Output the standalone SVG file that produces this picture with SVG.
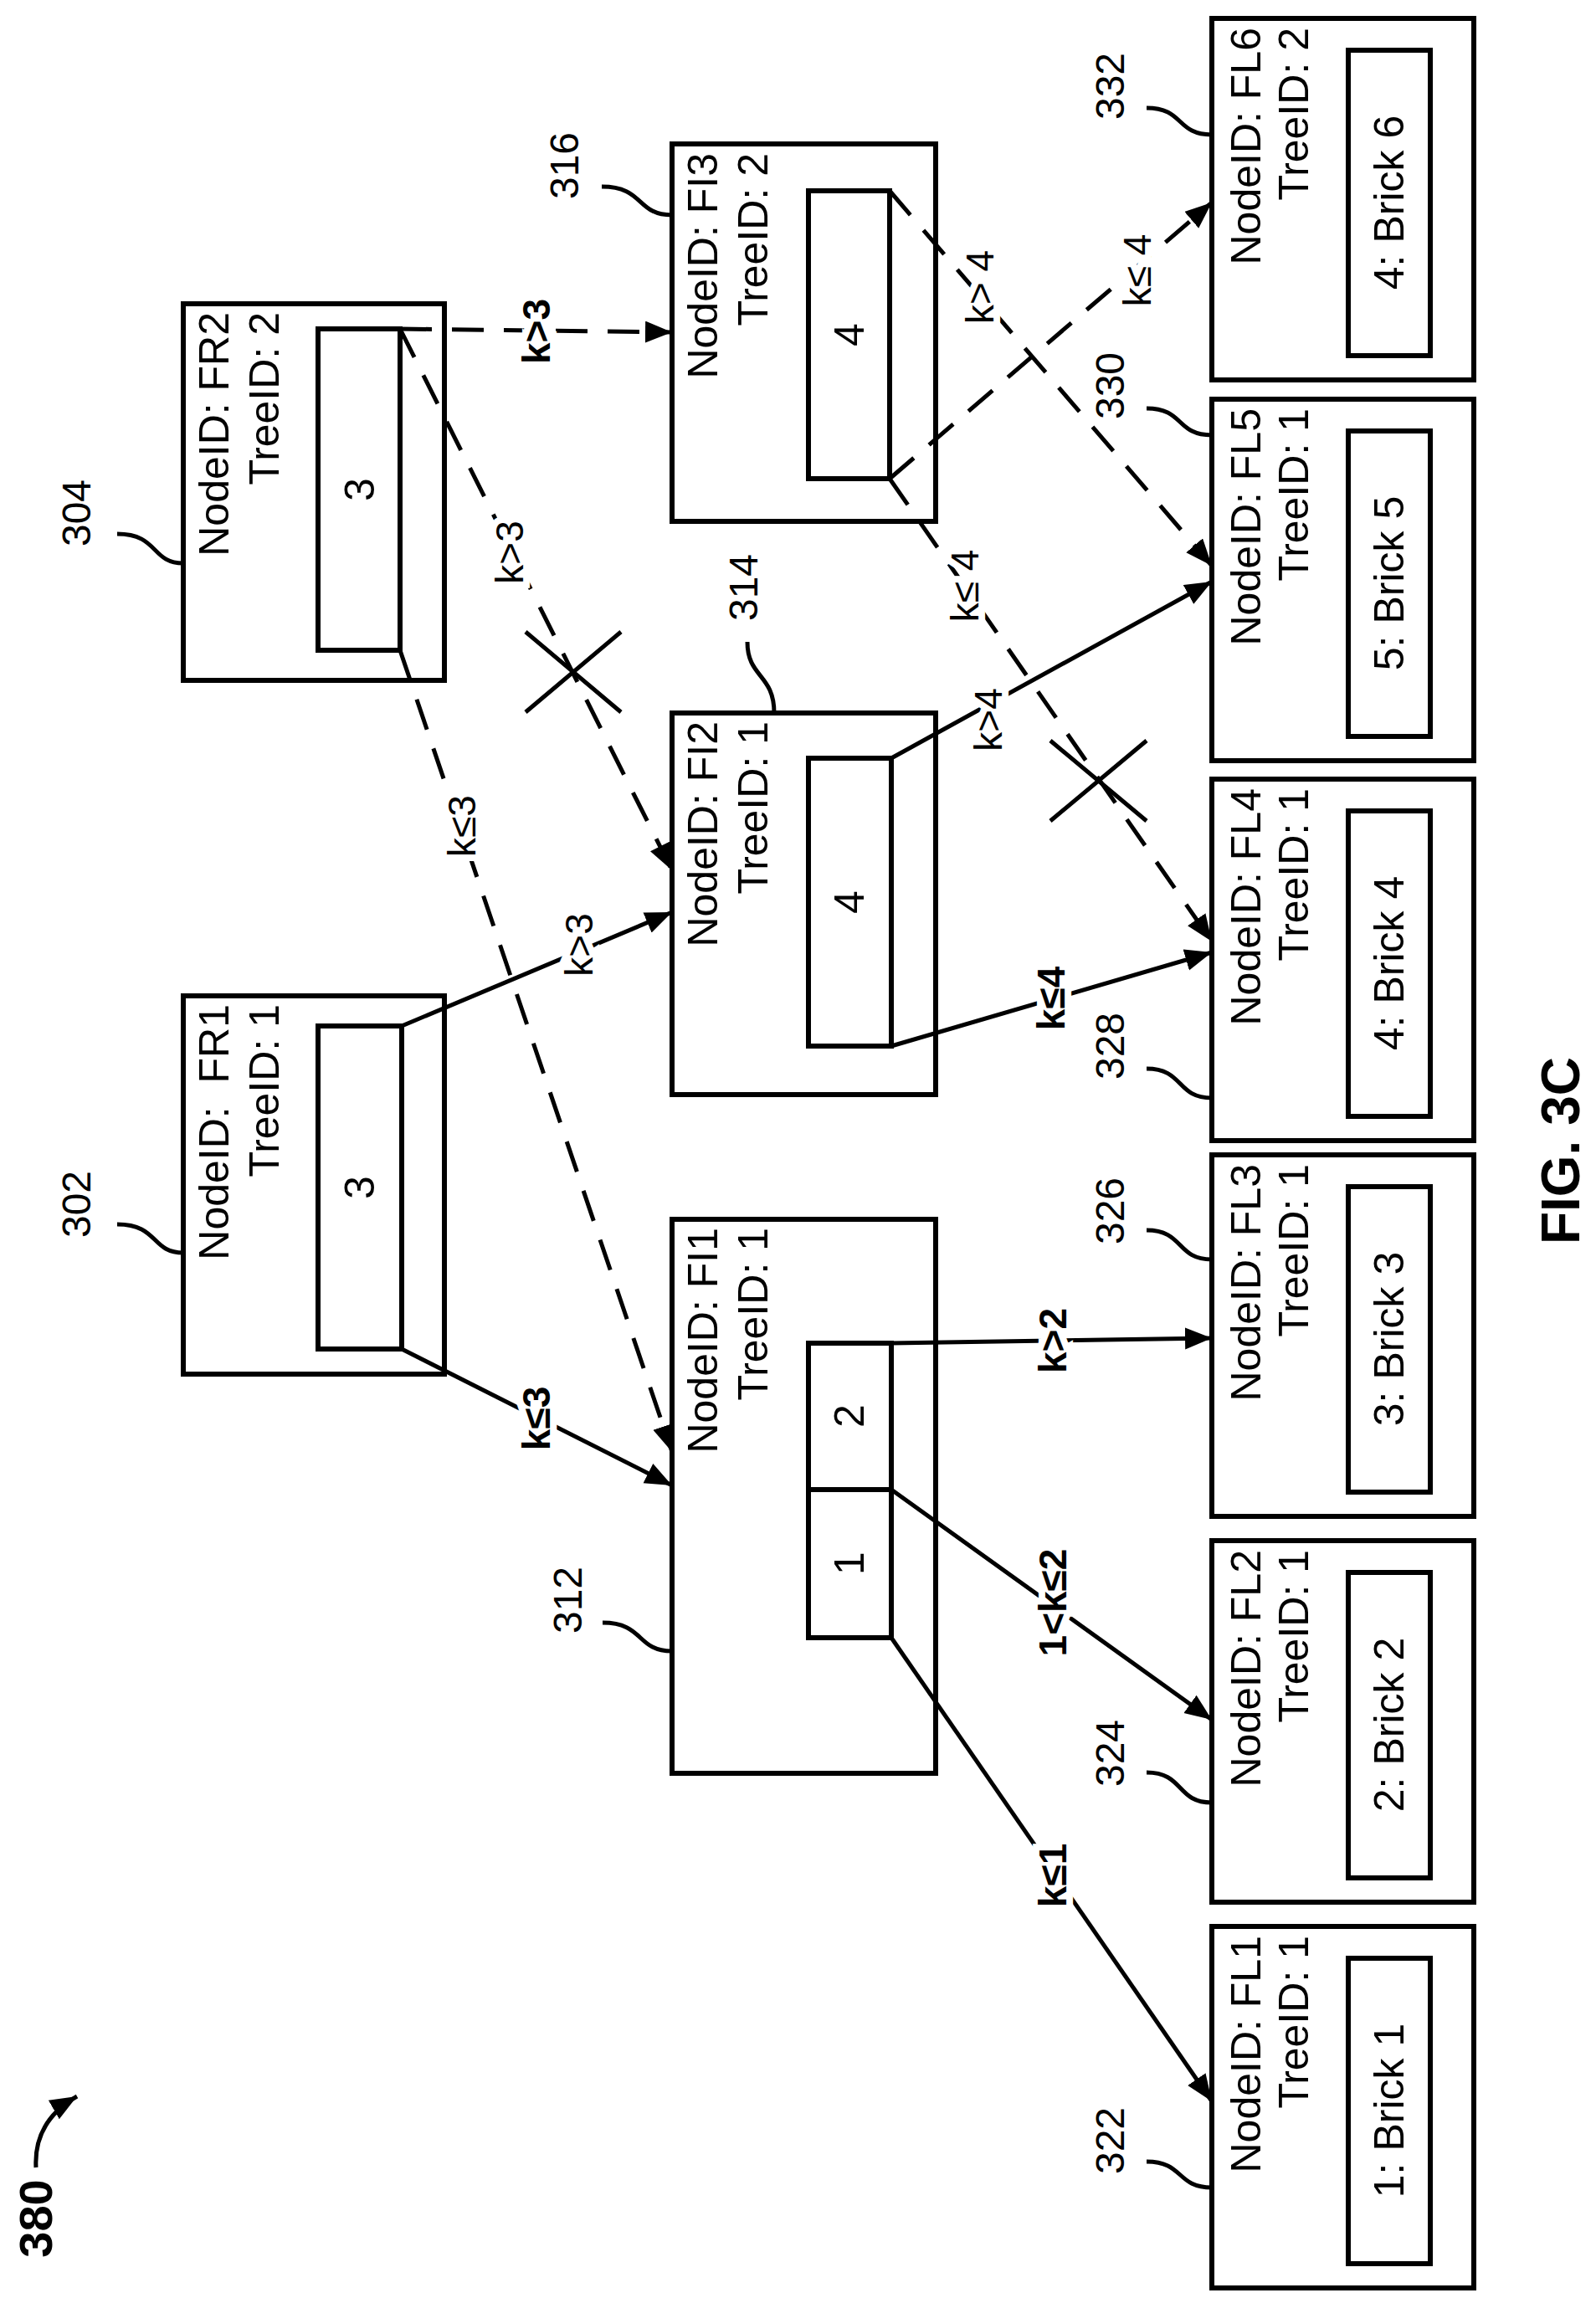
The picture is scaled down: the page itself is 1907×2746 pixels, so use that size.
<svg xmlns="http://www.w3.org/2000/svg" width="1907" height="2746" viewBox="0 0 1907 2746">
<style>
.bx{fill:none;stroke:#000;stroke-width:6}
.in{fill:#fff;stroke:#000;stroke-width:6}
.t{font-family:"Liberation Sans",Arial,sans-serif;font-size:50px;fill:#000}
.r{font-family:"Liberation Sans",Arial,sans-serif;font-size:48px;fill:#000}
.lb{font-family:"Liberation Sans",Arial,sans-serif;font-size:46px;fill:#000;text-anchor:middle;stroke:#fff;stroke-width:16;paint-order:stroke}
.b{font-weight:bold}
.c{fill:none;stroke:#000;stroke-width:5}
.d{fill:none;stroke:#000;stroke-width:5;stroke-dasharray:38 24}
.ld{fill:none;stroke:#000;stroke-width:5}
</style>
<defs>
<marker id="ah" markerUnits="userSpaceOnUse" markerWidth="34" markerHeight="28" refX="32" refY="13" orient="auto">
<path d="M0,0 L32,13 L0,26 z" fill="#000"/>
</marker>
</defs>
<rect width="1907" height="2746" fill="#fff"/>

<g id="connectors">
<line class="d" x1="478" y1="393" x2="803" y2="397" marker-end="url(#ah)"/>
<line class="d" x1="478" y1="393" x2="803" y2="1040" marker-end="url(#ah)"/>
<line class="d" x1="478" y1="777" x2="803" y2="1735" marker-end="url(#ah)"/>
<line class="c" x1="480" y1="1226" x2="803" y2="1090" marker-end="url(#ah)"/>
<line class="c" x1="480" y1="1612" x2="803" y2="1775" marker-end="url(#ah)"/>
<line class="d" x1="1063" y1="228" x2="1448" y2="676" marker-end="url(#ah)"/>
<line class="d" x1="1063" y1="572" x2="1448" y2="242" marker-end="url(#ah)"/>
<line class="d" x1="1063" y1="572" x2="1448" y2="1125" marker-end="url(#ah)"/>
<line class="c" x1="1065" y1="906" x2="1448" y2="695" marker-end="url(#ah)"/>
<line class="c" x1="1065" y1="1250" x2="1448" y2="1138" marker-end="url(#ah)"/>
<line class="c" x1="1065" y1="1605" x2="1448" y2="1599" marker-end="url(#ah)"/>
<line class="c" x1="1065" y1="1780" x2="1448" y2="2055" marker-end="url(#ah)"/>
<line class="c" x1="1065" y1="1957" x2="1448" y2="2511" marker-end="url(#ah)"/>
<path class="c" d="M628,755 L742,851 M628,851 L742,755"/>
<path class="c" d="M1255,885 L1370,981 M1255,981 L1370,885"/>
<text class="lb b" transform="translate(657,396) rotate(-90)">k&gt;3</text>
<text class="lb" transform="translate(625,660) rotate(-90)">k&gt;3</text>
<text class="lb" transform="translate(568,987) rotate(-90)">k≤3</text>
<text class="lb" transform="translate(708,1129) rotate(-90)">k&gt;3</text>
<text class="lb b" transform="translate(657,1695) rotate(-90)">k≤3</text>
<text class="lb" transform="translate(1187,343) rotate(-90)">k&gt; 4</text>
<text class="lb" transform="translate(1375,323) rotate(-90)">k≤ 4</text>
<text class="lb" transform="translate(1169,700) rotate(-90)">k≤ 4</text>
<text class="lb" transform="translate(1197,860) rotate(-90)">k&gt;4</text>
<text class="lb b" transform="translate(1272,1193) rotate(-90)">k≤4</text>
<text class="lb b" transform="translate(1274,1602) rotate(-90)">k&gt;2</text>
<text class="lb b" transform="translate(1274,1915) rotate(-90)">1&lt;k≤2</text>
<text class="lb b" transform="translate(1274,2241) rotate(-90)">k≤1</text>
</g>

<g id="FR2">
<rect class="bx" x="219" y="363" width="312" height="450"/>
<rect class="in" x="380" y="393" width="98" height="384"/>
<text class="t" text-anchor="end" transform="translate(273,373) rotate(-90)">NodeID: FR2</text>
<text class="t" text-anchor="end" transform="translate(333,373) rotate(-90)">TreeID: 2</text>
<text class="t" text-anchor="middle" transform="translate(447,585) rotate(-90)">3</text>
<path class="ld" d="M140,638 C190,638 180,673 219,673"/>
<text class="r" text-anchor="middle" transform="translate(108,613) rotate(-90)">304</text>
</g>
<g id="FR1">
<rect class="bx" x="219" y="1190" width="312" height="452"/>
<rect class="in" x="380" y="1226" width="100" height="386"/>
<text class="t" text-anchor="end" transform="translate(273,1200) rotate(-90)">NodeID:&#160; FR1</text>
<text class="t" text-anchor="end" transform="translate(333,1200) rotate(-90)">TreeID: 1</text>
<text class="t" text-anchor="middle" transform="translate(447,1419) rotate(-90)">3</text>
<path class="ld" d="M140,1463 C190,1463 180,1497 219,1497"/>
<text class="r" text-anchor="middle" transform="translate(108,1439) rotate(-90)">302</text>
</g>
<g id="FI3">
<rect class="bx" x="803" y="172" width="315" height="451"/>
<rect class="in" x="966" y="228" width="97" height="344"/>
<text class="t" text-anchor="end" transform="translate(857,183) rotate(-90)">NodeID: FI3</text>
<text class="t" text-anchor="end" transform="translate(917,183) rotate(-90)">TreeID: 2</text>
<text class="t" text-anchor="middle" transform="translate(1032,400) rotate(-90)">4</text>
<path class="ld" d="M719,223 C770,223 760,257 803,257"/>
<text class="r" text-anchor="middle" transform="translate(691,198) rotate(-90)">316</text>
</g>
<g id="FI2">
<rect class="bx" x="803" y="852" width="315" height="456"/>
<rect class="in" x="966" y="906" width="99" height="344"/>
<text class="t" text-anchor="end" transform="translate(857,862) rotate(-90)">NodeID: FI2</text>
<text class="t" text-anchor="end" transform="translate(917,862) rotate(-90)">TreeID: 1</text>
<text class="t" text-anchor="middle" transform="translate(1032,1078) rotate(-90)">4</text>
<path class="ld" d="M893,767 C893,810 925,805 925,852"/>
<text class="r" text-anchor="middle" transform="translate(905,702) rotate(-90)">314</text>
</g>
<g id="FI1">
<rect class="bx" x="803" y="1457" width="315" height="662"/>
<rect class="in" x="966" y="1605" width="99" height="352"/>
<line class="bx" x1="966" y1="1780" x2="1065" y2="1780"/>
<text class="t" text-anchor="end" transform="translate(857,1467) rotate(-90)">NodeID: FI1</text>
<text class="t" text-anchor="end" transform="translate(917,1467) rotate(-90)">TreeID: 1</text>
<text class="t" text-anchor="middle" transform="translate(1032,1692) rotate(-90)">2</text>
<text class="t" text-anchor="middle" transform="translate(1032,1868) rotate(-90)">1</text>
<path class="ld" d="M720,1939 C770,1939 760,1973 803,1973"/>
<text class="r" text-anchor="middle" transform="translate(695,1912) rotate(-90)">312</text>
</g>

<g id="FL6">
<rect class="bx" x="1448" y="22" width="313" height="432"/>
<rect class="in" x="1611" y="60" width="98" height="365"/>
<text class="t" text-anchor="end" transform="translate(1506,33) rotate(-90)">NodeID: FL6</text>
<text class="t" text-anchor="end" transform="translate(1563,33) rotate(-90)">TreeID: 2</text>
<text class="t" text-anchor="middle" transform="translate(1677,242) rotate(-90)">4: Brick 6</text>
<path class="ld" d="M1370,129 C1415,129 1405,161 1448,161"/>
<text class="r" text-anchor="middle" transform="translate(1343,103) rotate(-90)">332</text>
</g>
<g id="FL5">
<rect class="bx" x="1448" y="477" width="313" height="432"/>
<rect class="in" x="1611" y="515" width="98" height="365"/>
<text class="t" text-anchor="end" transform="translate(1506,488) rotate(-90)">NodeID: FL5</text>
<text class="t" text-anchor="end" transform="translate(1563,488) rotate(-90)">TreeID: 1</text>
<text class="t" text-anchor="middle" transform="translate(1677,697) rotate(-90)">5: Brick 5</text>
<path class="ld" d="M1370,488 C1415,488 1405,520 1448,520"/>
<text class="r" text-anchor="middle" transform="translate(1343,461) rotate(-90)">330</text>
</g>
<g id="FL4">
<rect class="bx" x="1448" y="931" width="313" height="432"/>
<rect class="in" x="1611" y="969" width="98" height="365"/>
<text class="t" text-anchor="end" transform="translate(1506,942) rotate(-90)">NodeID: FL4</text>
<text class="t" text-anchor="end" transform="translate(1563,942) rotate(-90)">TreeID: 1</text>
<text class="t" text-anchor="middle" transform="translate(1677,1151) rotate(-90)">4: Brick 4</text>
<path class="ld" d="M1370,1277 C1415,1277 1405,1312 1448,1312"/>
<text class="r" text-anchor="middle" transform="translate(1343,1250) rotate(-90)">328</text>
</g>
<g id="FL3">
<rect class="bx" x="1448" y="1380" width="313" height="432"/>
<rect class="in" x="1611" y="1418" width="98" height="365"/>
<text class="t" text-anchor="end" transform="translate(1506,1391) rotate(-90)">NodeID: FL3</text>
<text class="t" text-anchor="end" transform="translate(1563,1391) rotate(-90)">TreeID: 1</text>
<text class="t" text-anchor="middle" transform="translate(1677,1600) rotate(-90)">3: Brick 3</text>
<path class="ld" d="M1370,1470 C1415,1470 1405,1505 1448,1505"/>
<text class="r" text-anchor="middle" transform="translate(1343,1447) rotate(-90)">326</text>
</g>
<g id="FL2">
<rect class="bx" x="1448" y="1841" width="313" height="432"/>
<rect class="in" x="1611" y="1879" width="98" height="365"/>
<text class="t" text-anchor="end" transform="translate(1506,1852) rotate(-90)">NodeID: FL2</text>
<text class="t" text-anchor="end" transform="translate(1563,1852) rotate(-90)">TreeID: 1</text>
<text class="t" text-anchor="middle" transform="translate(1677,2061) rotate(-90)">2: Brick 2</text>
<path class="ld" d="M1370,2118 C1415,2118 1405,2154 1448,2154"/>
<text class="r" text-anchor="middle" transform="translate(1343,2095) rotate(-90)">324</text>
</g>
<g id="FL1">
<rect class="bx" x="1448" y="2302" width="313" height="432"/>
<rect class="in" x="1611" y="2340" width="98" height="365"/>
<text class="t" text-anchor="end" transform="translate(1506,2313) rotate(-90)">NodeID: FL1</text>
<text class="t" text-anchor="end" transform="translate(1563,2313) rotate(-90)">TreeID: 1</text>
<text class="t" text-anchor="middle" transform="translate(1677,2522) rotate(-90)">1: Brick 1</text>
<path class="ld" d="M1370,2583 C1415,2583 1405,2614 1448,2614"/>
<text class="r" text-anchor="middle" transform="translate(1343,2558) rotate(-90)">322</text>
</g>

<g id="fig380">
<path d="M43,2590 Q40,2535 92,2505" fill="none" stroke="#000" stroke-width="5" marker-end="url(#ah)"/>
<text class="t b" style="font-size:56px" text-anchor="middle" transform="translate(62,2651) rotate(-90)">380</text>
</g>
<text class="t b" style="font-size:64px" text-anchor="end" transform="translate(1887,1263) rotate(-90)">FIG. 3C</text>
</svg>
